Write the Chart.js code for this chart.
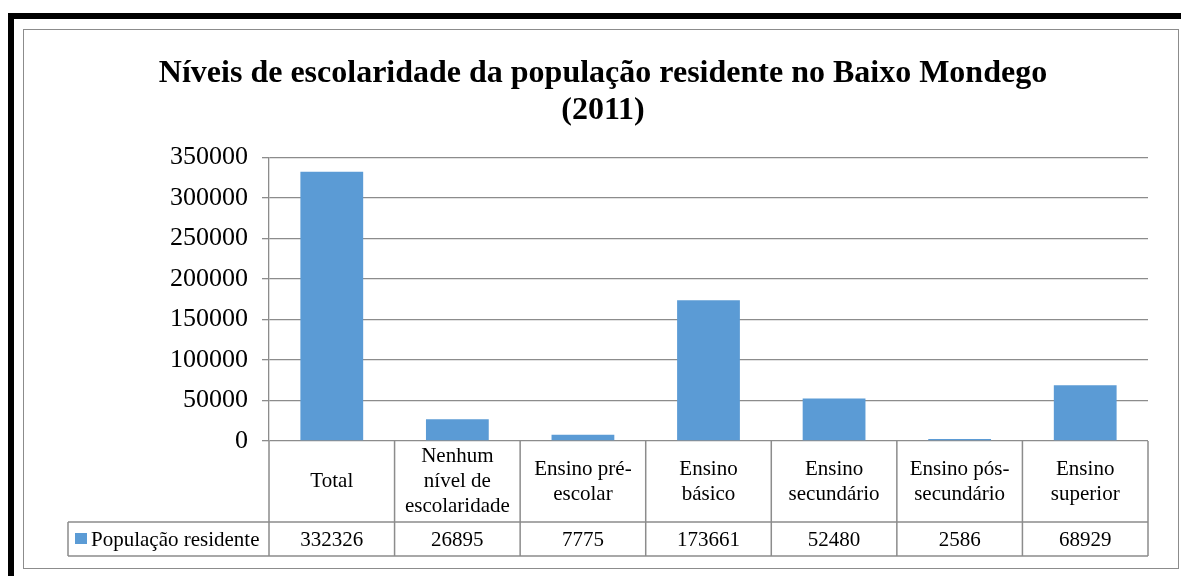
<!DOCTYPE html>
<html>
<head>
<meta charset="utf-8">
<script src="https://cdn.jsdelivr.net/npm/chart.js@4.4.1/dist/chart.umd.min.js"></script>
<style>
  html, body { margin: 0; padding: 0; background: #fff; }
  body { width: 1181px; height: 576px; position: relative; overflow: hidden; }
  #frame { position: absolute; left: 8px; top: 13px; width: 1300px; height: 700px;
    border-left: 6px solid #000; border-top: 6px solid #000; }
  #box { position: absolute; left: 23px; top: 29px; width: 1154px; height: 538px;
    border: 1.5px solid #8c8c8c; }
  #wrap { position: absolute; left: 24px; top: 30px; width: 1154px; height: 538px; }
</style>
</head>
<body>
<div id="frame"></div>
<div id="box"></div>
<div id="wrap"><canvas id="chart"></canvas></div>
<script>
var categories = [
  ['Total'],
  ['Nenhum', 'nível de', 'escolaridade'],
  ['Ensino pré-', 'escolar'],
  ['Ensino', 'básico'],
  ['Ensino', 'secundário'],
  ['Ensino pós-', 'secundário'],
  ['Ensino', 'superior'],
];
var seriesName = 'População residente';
var values = [332326, 26895, 7775, 173661, 52480, 2586, 68929];
var yTicks = [0, 50000, 100000, 150000, 200000, 250000, 300000, 350000];
var titleLines = ['Níveis de escolaridade da população residente no Baixo Mondego', '(2011)'];

var serif = '"Liberation Serif", "Times New Roman", serif';
var lineColor = '#8c8c8c';
var barColor = '#5b9bd5';

// data table under the plot, drawn from the x scale
var dataTable = {
  id: 'dataTable',
  afterDraw: function (chart) {
    var ctx = chart.ctx;
    var x = chart.scales.x;
    var area = chart.chartArea;
    var half = (x.getPixelForValue(1) - x.getPixelForValue(0)) / 2;
    var rowTop = area.bottom;
    var rowMid = rowTop + 81;
    var rowBot = rowMid + 34;
    var legendLeft = 44;
    ctx.save();
    ctx.strokeStyle = lineColor;
    ctx.lineWidth = 1.5;
    ctx.beginPath();
    ctx.moveTo(legendLeft, rowMid);
    ctx.lineTo(area.right, rowMid);
    ctx.moveTo(legendLeft, rowBot);
    ctx.lineTo(area.right, rowBot);
    ctx.moveTo(legendLeft, rowMid);
    ctx.lineTo(legendLeft, rowBot);
    for (var i = 0; i <= categories.length; ++i) {
      var px = i < categories.length ? x.getPixelForValue(i) - half : x.getPixelForValue(i - 1) + half;
      ctx.moveTo(px, rowTop);
      ctx.lineTo(px, rowBot);
    }
    ctx.stroke();

    ctx.fillStyle = '#000';
    ctx.textAlign = 'center';
    ctx.textBaseline = 'middle';
    ctx.font = '21px ' + serif;
    var lh = 25;
    var catMid = (rowTop + rowMid) / 2;
    for (var i = 0; i < categories.length; ++i) {
      var cx = x.getPixelForValue(i);
      var lines = categories[i];
      var y0 = catMid - (lines.length - 1) * lh / 2;
      for (var j = 0; j < lines.length; ++j) {
        ctx.fillText(lines[j], cx, y0 + j * lh);
      }
      ctx.fillText(String(values[i]), cx, (rowMid + rowBot) / 2 + 1);
    }

    // legend key
    var ds = chart.data.datasets[0];
    ctx.fillStyle = ds.backgroundColor;
    ctx.fillRect(51, rowMid + 11, 12, 11);
    ctx.fillStyle = '#000';
    ctx.textAlign = 'left';
    ctx.fillText(ds.label, 67, (rowMid + rowBot) / 2 + 1);
    ctx.restore();
  }
};

new Chart(document.getElementById('chart'), {
  type: 'bar',
  data: {
    labels: categories,
    datasets: [{
      label: seriesName,
      data: values,
      backgroundColor: barColor,
      barPercentage: 0.5,
      categoryPercentage: 1,
    }],
  },
  options: {
    responsive: true,
    maintainAspectRatio: false,
    animation: false,
    layout: {
      padding: { left: 34, right: 30, top: 0, bottom: 0 },
    },
    plugins: {
      legend: { display: false },
      tooltip: { enabled: false },
      title: {
        display: true,
        text: titleLines,
        color: '#000',
        font: { family: serif, size: 32, weight: 'bold', lineHeight: 1.13 },
        padding: { top: 26, bottom: 29 },
      },
    },
    scales: {
      x: {
        ticks: { display: false },
        grid: { display: false },
        border: { display: false },
        afterFit: function (scale) {
          scale.height = 127;
        },
      },
      y: {
        min: 0,
        max: 350000,
        afterBuildTicks: function (scale) {
          scale.ticks = yTicks.map(function (v) { return { value: v }; });
        },
        ticks: {
          color: '#000',
          padding: 14,
          font: { family: serif, size: 26 },
          callback: function (v) { return String(v); },
        },
        grid: {
          color: lineColor,
          lineWidth: 1.3,
          tickLength: 7,
        },
        border: { color: lineColor, width: 1.3 },
        afterFit: function (scale) {
          scale.width = 211;
        },
      },
    },
  },
  plugins: [dataTable],
});
</script>
</body>
</html>
